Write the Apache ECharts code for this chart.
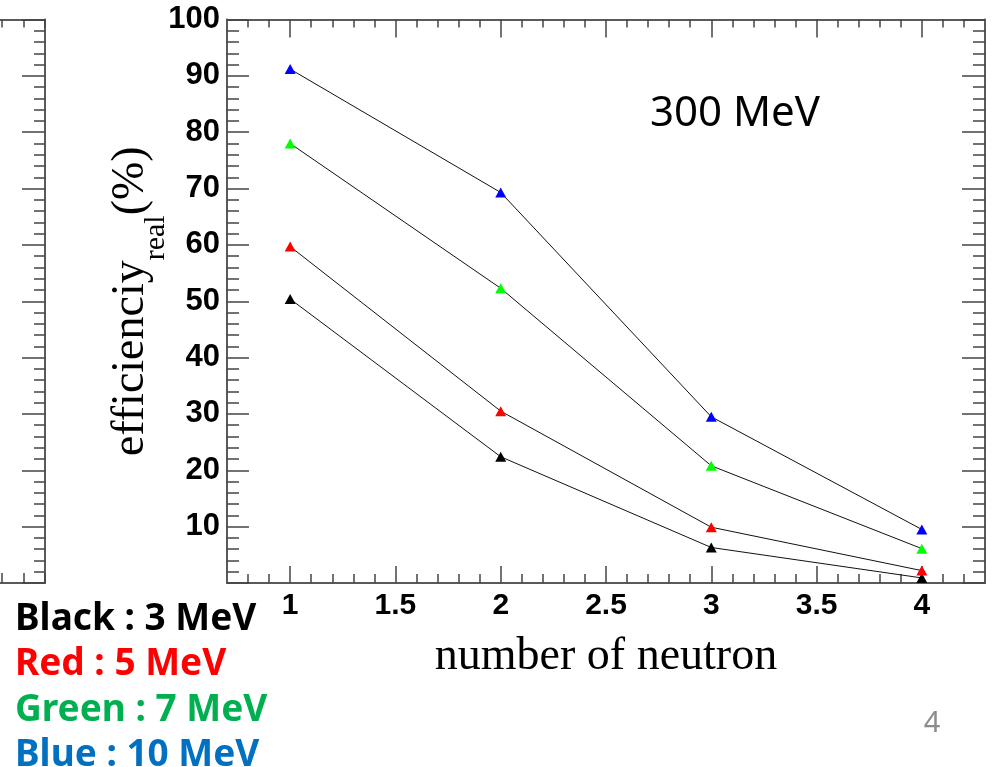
<!DOCTYPE html>
<html>
<head>
<meta charset="utf-8">
<style>
	html, body { margin:0; padding:0; background:#fff; }
	#chart { width:994px; height:767px; }
</style>
</head>
<body>
<div id="chart"></div>
<script src="https://cdn.jsdelivr.net/npm/echarts@6.0.0/dist/echarts.min.js"></script>
<script>
// values
var neutrons = [1, 2, 3, 4];
var black3 = [50.4, 22.4, 6.3, 0.9];
var red5 = [59.7, 30.5, 9.9, 2.2];
var green7 = [78.0, 52.3, 20.8, 6.1];
var blue10 = [91.2, 69.3, 29.5, 9.5];
var xTickLabels = [1, 1.5, 2, 2.5, 3, 3.5, 4];
var legendNames = ['Black : 3 MeV', 'Red : 5 MeV', 'Green : 7 MeV', 'Blue : 10 MeV'];
var legendColors = ['#000000', '#ff0000', '#00b050', '#0070c0'];

var frameColor = '#5a5a5a';
var tickColor = '#444';

// minor ticks every 0.1 between the majors
var xMinor = [];
for (var i = 8; i < 43; i++) {
	if (i % 5 !== 0) xMinor.push(i / 10);
}

function pairs(vals){
	return neutrons.map(function(n, k){ return [n, vals[k]]; });
}

function tickAxis(pos, len, values, showLine, extra){
	var a = {
		gridIndex: 0, type: 'value', position: pos, min: 0.7, max: 4.3,
		axisLine: { show: showLine, onZero: false, lineStyle: { color: frameColor, width: 2 } },
		axisTick: { show: true, inside: true, length: len, customValues: values, lineStyle: { color: tickColor, width: 1.5 } },
		axisLabel: { show: false },
		splitLine: { show: false }
	};
	if (extra) for (var k in extra) a[k] = extra[k];
	return a;
}

var chart = echarts.init(document.getElementById('chart'));

var lineSeries = [
	{ vals: black3, color: '#000000' },
	{ vals: red5, color: '#ff0000' },
	{ vals: green7, color: '#00ff00' },
	{ vals: blue10, color: '#0000ff' }
].map(function(s){
	return {
		type: 'line', xAxisIndex: 0, yAxisIndex: 0,
		data: pairs(s.vals),
		symbol: 'triangle', symbolSize: [11, 10],
		itemStyle: { color: s.color },
		lineStyle: { color: '#111', width: 1 },
		clip: false
	};
});

var graphics = legendNames.map(function(t, k){
	return {
		type: 'text', x: 15, y: 619 + k * 45.5,
		style: { text: t, fill: legendColors[k], font: 'bold 37px "Noto Sans"', verticalAlign: 'middle' }
	};
});
graphics.push({
	type: 'text', x: 650, y: 114,
	style: { text: '300 MeV', fill: '#000', font: '42px "Noto Sans"', verticalAlign: 'middle' }
});
graphics.push({
	type: 'text', x: 932, y: 724,
	style: { text: '4', fill: '#8c8c8c', font: '29px "Noto Sans"', align: 'center', verticalAlign: 'middle' }
});

var option = {
	animation: false,
	backgroundColor: '#fff',
	grid: [
		{ left: 227, top: 19.5, right: 9, bottom: 184, outerBoundsMode: 'none' },
		{ left: -171, top: 19.5, width: 216, bottom: 184, outerBoundsMode: 'none' }
	],
	xAxis: [
		tickAxis('bottom', 17, xTickLabels, true, {
			axisLabel: {
				show: true, customValues: xTickLabels, margin: 8,
				fontFamily: 'Liberation Sans', fontWeight: 'bold', fontSize: 30, color: '#000'
			},
			name: 'number of neutron', nameLocation: 'middle', nameGap: 51,
			nameTextStyle: { fontFamily: 'Liberation Serif', fontSize: 46, color: '#000' }
		}),
		tickAxis('bottom', 9, xMinor, false),
		tickAxis('top', 18, xTickLabels, true),
		tickAxis('top', 8, xMinor, false),
		{
			gridIndex: 1, type: 'value', position: 'bottom', min: 0, max: 10, interval: 1,
			axisLine: { show: true, onZero: false, lineStyle: { color: frameColor, width: 2 } },
			axisTick: { inside: true, length: 10, lineStyle: { color: tickColor, width: 1.5 } },
			axisLabel: { show: false }, splitLine: { show: false }
		},
		{
			gridIndex: 1, type: 'value', position: 'top', min: 0, max: 10, interval: 1,
			axisLine: { show: true, onZero: false, lineStyle: { color: frameColor, width: 2 } },
			axisTick: { inside: true, length: 8, lineStyle: { color: tickColor, width: 1.5 } },
			axisLabel: { show: false }, splitLine: { show: false }
		}
	],
	yAxis: [
		{
			gridIndex: 0, type: 'value', position: 'left', min: 0, max: 100, interval: 10,
			axisLine: { show: true, onZero: false, lineStyle: { color: frameColor, width: 2 } },
			axisTick: { inside: true, length: 22, lineStyle: { color: tickColor, width: 1.5 } },
			minorTick: { show: true, splitNumber: 5, length: 12, lineStyle: { color: tickColor, width: 1.5 } },
			axisLabel: {
				margin: 7, fontFamily: 'Liberation Sans', fontWeight: 'bold', fontSize: 31, color: '#000',
				formatter: function(v){ return v === 0 ? '' : v; }
			},
			splitLine: { show: false },
			name: '{m|efficienciy}{s|real}{m|(%)}',
			nameLocation: 'middle', nameRotate: 90, nameGap: 56, nameMoveOverlap: false,
			nameTextStyle: {
				rich: {
					m: { fontFamily: 'Liberation Serif', fontSize: 46, color: '#000' },
					s: { fontFamily: 'Liberation Serif', fontSize: 30, color: '#000', padding: [50, 0, 0, 0] }
				}
			}
		},
		{
			gridIndex: 0, type: 'value', position: 'right', min: 0, max: 100, interval: 10,
			axisLine: { show: true, onZero: false, lineStyle: { color: frameColor, width: 2 } },
			axisTick: { inside: true, length: 23, lineStyle: { color: tickColor, width: 1.5 } },
			minorTick: { show: true, splitNumber: 5, length: 12, lineStyle: { color: tickColor, width: 1.5 } },
			axisLabel: { show: false }, splitLine: { show: false }
		},
		{
			gridIndex: 1, type: 'value', position: 'right', min: 0, max: 100, interval: 10,
			axisLine: { show: true, onZero: false, lineStyle: { color: frameColor, width: 2 } },
			axisTick: { inside: true, length: 23, lineStyle: { color: tickColor, width: 1.5 } },
			minorTick: { show: true, splitNumber: 5, length: 11, lineStyle: { color: tickColor, width: 1.5 } },
			axisLabel: { show: false }, splitLine: { show: false }
		}
	],
	series: lineSeries,
	graphic: graphics
};
chart.setOption(option);
</script>
</body>
</html>
